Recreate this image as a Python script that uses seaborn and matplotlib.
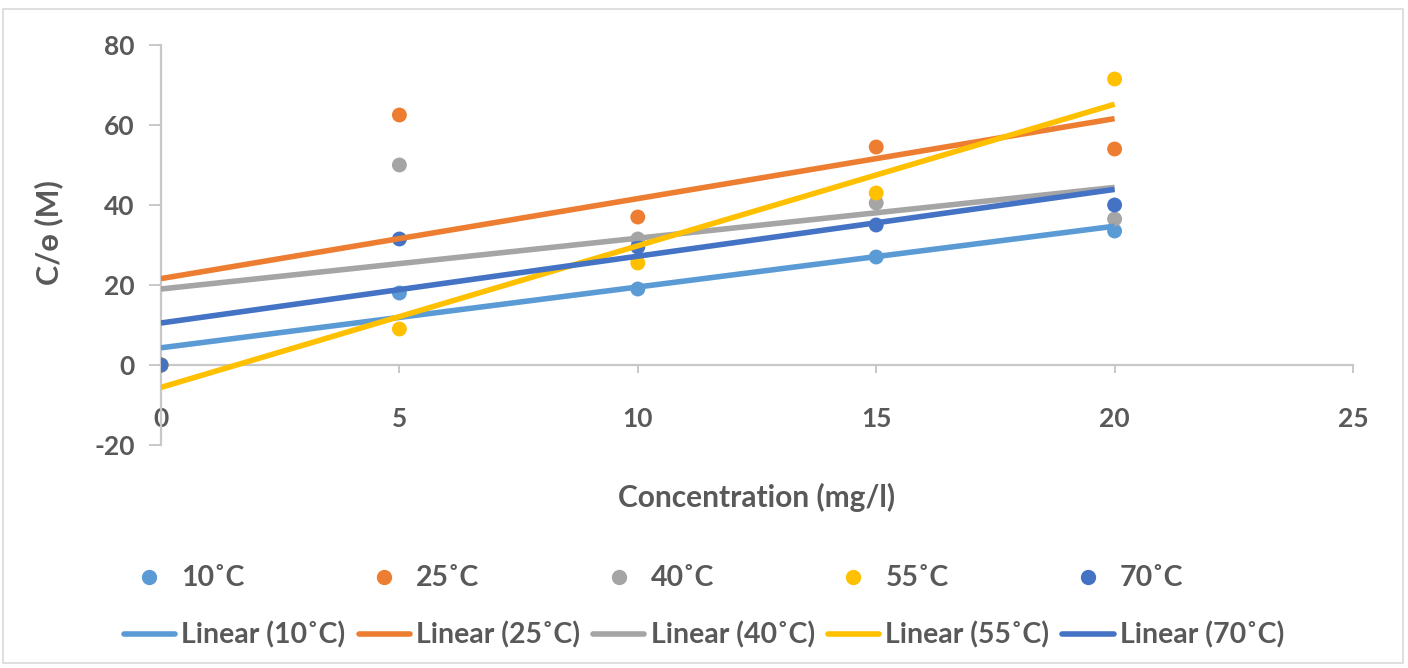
import numpy as np
import pandas as pd
import seaborn as sns
import matplotlib.pyplot as plt
from matplotlib.lines import Line2D
from matplotlib.patches import Rectangle

# Concentration values (mg/l) and C/ɵ readings for each temperature
concentration = [0, 5, 10, 15, 20]
temps = ["10˚C", "25˚C", "40˚C", "55˚C", "70˚C"]
vals_10 = [0, 18.0, 19.0, 27.0, 33.5]
vals_25 = [0, 62.5, 37.0, 54.5, 54.0]
vals_40 = [0, 50.0, 31.5, 40.5, 36.5]
vals_55 = [0, 9.0, 25.5, 43.0, 71.5]
vals_70 = [0, 31.5, 29.5, 35.0, 40.0]
x_ticks = [0, 5, 10, 15, 20, 25]
y_ticks = [-20, 0, 20, 40, 60, 80]

colors = ["#5B9BD5", "#ED7D31", "#A5A5A5", "#FFC000", "#4472C4"]

df = pd.DataFrame({
    "conc": concentration * 5,
    "value": vals_10 + vals_25 + vals_40 + vals_55 + vals_70,
    "temp": np.repeat(temps, len(concentration)),
})

sns.set_theme(style="white")
plt.rcParams["font.family"] = ["Lato", "DejaVu Sans"]
plt.rcParams["axes.unicode_minus"] = False
text_color = "#595959"

fig = plt.figure(figsize=(14.08, 6.68), dpi=100)
ax = fig.add_axes([161 / 1408, 1 - 445 / 668, (1353 - 161) / 1408, 400 / 668])

# scatter points
sns.scatterplot(data=df, x="conc", y="value", hue="temp", palette=colors,
                s=115, edgecolor="none", legend=False, ax=ax, zorder=3)

# linear trend lines
for t, c in zip(temps, colors):
    sub = df[df["temp"] == t]
    sns.regplot(data=sub, x="conc", y="value", scatter=False, ci=None,
                color=c, line_kws={"lw": 4.0, "solid_capstyle": "butt", "zorder": 4},
                ax=ax)

ax.set_xlim(0, 25)
ax.set_ylim(-20, 80)
ax.set_xticks(x_ticks)
ax.set_yticks(y_ticks)

for s in ["top", "right"]:
    ax.spines[s].set_visible(False)
ax.spines["bottom"].set_position(("data", 0))
ax.spines["bottom"].set_color("#C8C8C8")
ax.spines["left"].set_color("#C8C8C8")
ax.spines["bottom"].set_linewidth(1.6)
ax.spines["left"].set_linewidth(1.6)

ax.tick_params(axis="x", direction="out", length=6, width=1.4, color="#C8C8C8",
               pad=24, labelsize=19, labelcolor=text_color, bottom=True)
ax.tick_params(axis="y", direction="out", length=9, width=1.4, color="#C8C8C8",
               pad=10, labelsize=19, labelcolor=text_color, left=True)
for lab in ax.get_xticklabels() + ax.get_yticklabels():
    lab.set_fontweight("bold")

ax.set_xlabel("Concentration (mg/l)", fontsize=21.5, fontweight="bold", color=text_color)
ax.xaxis.set_label_coords(0.5, -0.095)
ax.set_ylabel("C/ɵ (M)", fontsize=22, fontweight="bold", color=text_color)
ax.yaxis.set_label_coords(-0.082, 0.53)

# legend: markers on first row, trend lines on second row
handles, labels = [], []
for t, c in zip(temps, colors):
    handles.append(Line2D([], [], marker="o", linestyle="none", color=c, markersize=10))
    labels.append(t)
    handles.append(Line2D([], [], color=c, lw=4))
    labels.append(f"Linear ({t})")
leg = fig.legend(handles, labels, ncol=5, loc="center", bbox_to_anchor=(0.5, 1 - 607 / 668),
                 frameon=False, fontsize=20.5, handlelength=1.8, handletextpad=0.22,
                 columnspacing=0.46, labelspacing=1.05)
for txt in leg.get_texts():
    txt.set_color(text_color)
    txt.set_fontweight("bold")

# chart frame
fig.patches.append(Rectangle((3 / 1408, 5 / 668), 1400 / 1408, 654 / 668,
                             transform=fig.transFigure, fill=False,
                             edgecolor="#D9D9D9", lw=1.2))

fig.savefig("out.png", dpi=100)
